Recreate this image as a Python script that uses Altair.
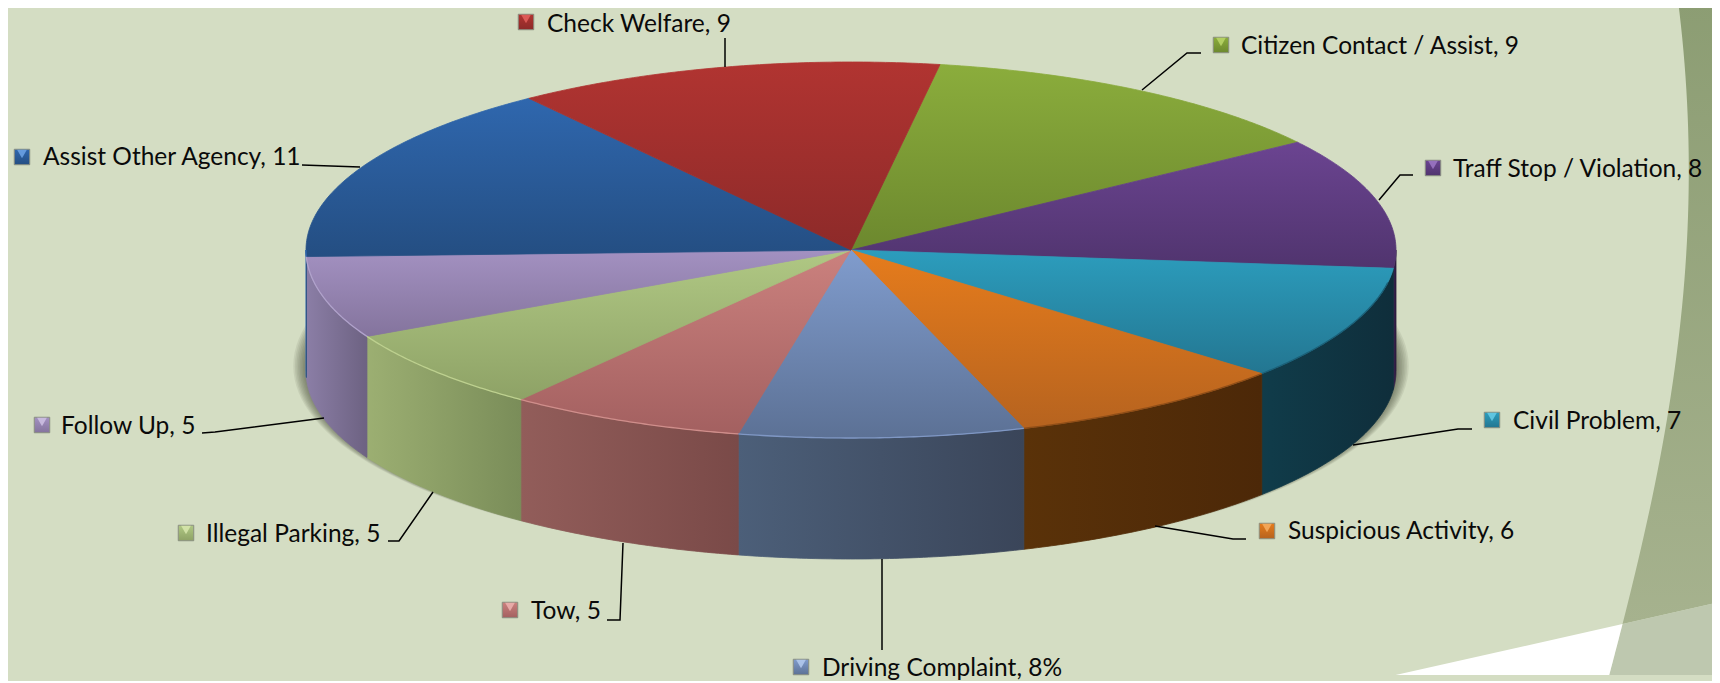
import numpy as np
import pandas as pd
import altair as alt

# ---- data ----
LABELS = ["Citizen Contact / Assist", "Traff Stop / Violation", "Civil Problem", "Suspicious Activity",
          "Driving Complaint", "Tow", "Illegal Parking", "Follow Up", "Assist Other Agency", "Check Welfare"]
VALUES = [9, 8, 7, 6, 6, 5, 5, 5, 11, 9]
VALUE_TEXT = ["9", "8", "7", "6", "8%", "5", "5", "5", "11", "9"]

TOP_LIGHT = ["#8BAD3C", "#6B4491", "#2C9DBD", "#E67C1C", "#809CCD", "#CB817E", "#B0C884", "#A391C1", "#2F67AE", "#B13431"]
TOP_DARK = ["#6C882E", "#50346E", "#237691", "#B6631F", "#5C7195", "#A36060", "#8EA266", "#84749D", "#244E82", "#8D2A29"]
SIDE_LIGHT = ["#6C882E", "#3A2450", "#103C4A", "#5A3209", "#4C5F79", "#925D5A", "#9CAF72", "#8B7EA6", "#2F67AE", "#B13431"]
SIDE_DARK = ["#56702A", "#2A1A3C", "#0F2E3B", "#4C2808", "#3A4559", "#7A4A48", "#7A8D59", "#6D6282", "#244E82", "#8D2A29"]
RIM = ["#6C882E", "#50346E", "#1B6078", "#8F4E18", "#7F97C4", "#CF8E8B", "#BDD08F", "#B0A2CB", "#2F67AE", "#B13431"]
KEY_TRI = ["#BBD66A", "#9E78C6", "#68CDE8", "#F6AE62", "#B5CBEF", "#EDB3B0", "#D8E8AE", "#CFC2E4", "#6FA4E6", "#E4615D"]

LEADERS = [
    [(1201, 53), (1187, 53), (1142, 90)],
    [(1413, 175), (1400, 175), (1379, 200)],
    [(1472, 429), (1458, 429), (1353, 445)],
    [(1246, 539), (1233, 539), (1155, 526)],
    [(882, 650), (882, 559)],
    [(623, 543), (620, 620), (607, 620)],
    [(388, 541), (399, 541), (433, 492)],
    [(202, 433), (215, 432), (324, 418)],
    [(302, 165), (360, 167)],
    [(725, 38), (725, 67)],
]
KEY_X = [1221, 1433, 1492, 1267, 801, 510, 186, 42, 22, 526]
KEY_Y = [45, 168, 420, 531, 667, 610, 533, 425, 157, 22]
TEXT_X = [1241, 1453, 1513, 1288, 822, 531, 206, 61, 43, 547]
TEXT_Y = [54, 177, 429, 539, 676, 619, 542, 434, 165, 32]

# ---- pie geometry ----
CX, CY, RX, RY, DEPTH = 851, 250, 545, 188, 121
START = 9.4
X_DOM, Y_DOM = [8, 1712], [675, 8]

x_enc = alt.X("x:Q", scale=alt.Scale(domain=X_DOM, nice=False, zero=False), axis=None)
y_enc = alt.Y("y:Q", scale=alt.Scale(domain=Y_DOM, nice=False, zero=False), axis=None)


def grad(c1, c2, horizontal=False):
    return alt.Gradient(
        gradient="linear",
        stops=[alt.GradientStop(offset=0, color=c1), alt.GradientStop(offset=1, color=c2)],
        x1=0, y1=0, x2=1 if horizontal else 0, y2=0 if horizontal else 1,
    )


def poly(pts, fill, stroke=None, sw=0.8, opacity=1.0):
    df = pd.DataFrame(pts, columns=["x", "y"])
    df["i"] = range(len(df))
    kw = dict(interpolate="linear-closed", fill=fill, strokeWidth=sw, opacity=opacity, clip=True)
    kw["stroke"] = stroke if stroke else "transparent"
    return alt.Chart(df).mark_line(**kw).encode(x=x_enc, y=y_enc, order=alt.Order("i:Q"))


def path(pts, color, sw):
    df = pd.DataFrame(pts, columns=["x", "y"])
    df["i"] = range(len(df))
    return alt.Chart(df).mark_line(color=color, strokeWidth=sw, clip=True).encode(
        x=x_enc, y=y_enc, order=alt.Order("i:Q"))


def rim_pt(a, dy=0.0, cx=CX, cy=CY, rx=RX, ry=RY):
    t = np.radians(a)
    return (cx + rx * np.sin(t), cy - ry * np.cos(t) + dy)


layers = []

# ---- page decoration ----
cy_pts = np.array([0, 131, 218, 305, 392, 501, 560, 624, 683])
cx_pts = np.array([1678, 1688, 1688, 1683, 1670, 1653, 1637, 1623, 1607])
coef = np.polyfit(cy_pts, cx_pts, 4)


def curve_x(v):
    return float(np.polyval(coef, v))


def band_y(x):
    return 656 - (x - 1480) * 0.225


JOIN_Y = 624
layers.append(poly([(curve_x(v), float(v)) for v in np.linspace(0, JOIN_Y, 50)] + [(1730, band_y(1730)), (1730, 0)],
                   grad("#8C9D73", "#A6B28E")))
lower = [(curve_x(v), float(v)) for v in np.linspace(JOIN_Y, 690, 10)]
layers.append(poly(lower + [(1730, 690), (1730, band_y(1730))], "#BEC8AF"))
layers.append(poly([(1340, band_y(1340))] + lower + [(1340, 690)], "#FFFFFF"))

# ---- soft shadow ----
for k in range(8):
    sh = [rim_pt(a, cy=368 - k * 0.3, rx=RX + 1.5 + k * 1.6, ry=RY + 1.5 + k * 0.5) for a in np.linspace(0, 360, 180, endpoint=False)]
    layers.append(poly(sh, "#3A3F2C", opacity=0.085))

# ---- slices ----
edges = START + np.concatenate([[0], np.cumsum(VALUES)]) * 360 / sum(VALUES)

for i in range(len(VALUES)):
    a0, a1 = edges[i], edges[i + 1]
    s0, s1 = max(a0, 90), min(a1, 270)
    if s1 > s0:
        ang = np.linspace(s0, s1, 60)
        pts = [rim_pt(a) for a in ang] + [rim_pt(a, DEPTH) for a in ang[::-1]]
        g = grad(SIDE_LIGHT[i], SIDE_DARK[i], True)
        layers.append(poly(pts, g, stroke=g))

for i in range(len(VALUES)):
    a0, a1 = edges[i], edges[i + 1]
    ang = np.linspace(a0, a1, 80)
    pts = [(CX, CY)] + [rim_pt(a) for a in ang]
    g = grad(TOP_LIGHT[i], TOP_DARK[i])
    layers.append(poly(pts, g, stroke=g))

for i in range(len(VALUES)):
    a0, a1 = edges[i], edges[i + 1]
    s0, s1 = max(a0, 100), min(a1, 270)
    if s1 > s0:
        layers.append(path([rim_pt(a) for a in np.linspace(s0, s1, 60)], RIM[i], 1.3))

# ---- leaders, legend keys, labels ----
for pts in LEADERS:
    layers.append(path(pts, "#000000", 1.5))

for i in range(len(VALUES)):
    key = pd.DataFrame({"x": [KEY_X[i]], "y": [KEY_Y[i]], "yk": [KEY_Y[i] - 3.0]})
    layers.append(alt.Chart(key).mark_point(
        shape="square", size=240, filled=True, opacity=1, strokeWidth=1, stroke="#8A8F80",
        fill=grad(TOP_LIGHT[i], TOP_DARK[i])).encode(x=x_enc, y=y_enc))
    layers.append(alt.Chart(key).mark_point(
        shape="triangle-down", size=95, filled=True, opacity=0.85, strokeWidth=0,
        fill=KEY_TRI[i]).encode(
        x=x_enc, y=alt.Y("yk:Q", scale=alt.Scale(domain=Y_DOM, nice=False, zero=False), axis=None)))

labels = pd.DataFrame({
    "x": TEXT_X, "y": TEXT_Y,
    "t": [f"{n}, {v}" for n, v in zip(LABELS, VALUE_TEXT)],
})
layers.append(alt.Chart(labels).mark_text(
    align="left", baseline="alphabetic", font="Lato", fontSize=24.5, color="#0A0A0A"
).encode(x=x_enc, y=y_enc, text="t:N"))

chart = alt.layer(*layers).properties(
    width=1704, height=667, padding=0, background="#D4DDC3"
).configure_view(stroke=None)

chart.save("out.html", embed_options={"renderer": "svg", "actions": False})
